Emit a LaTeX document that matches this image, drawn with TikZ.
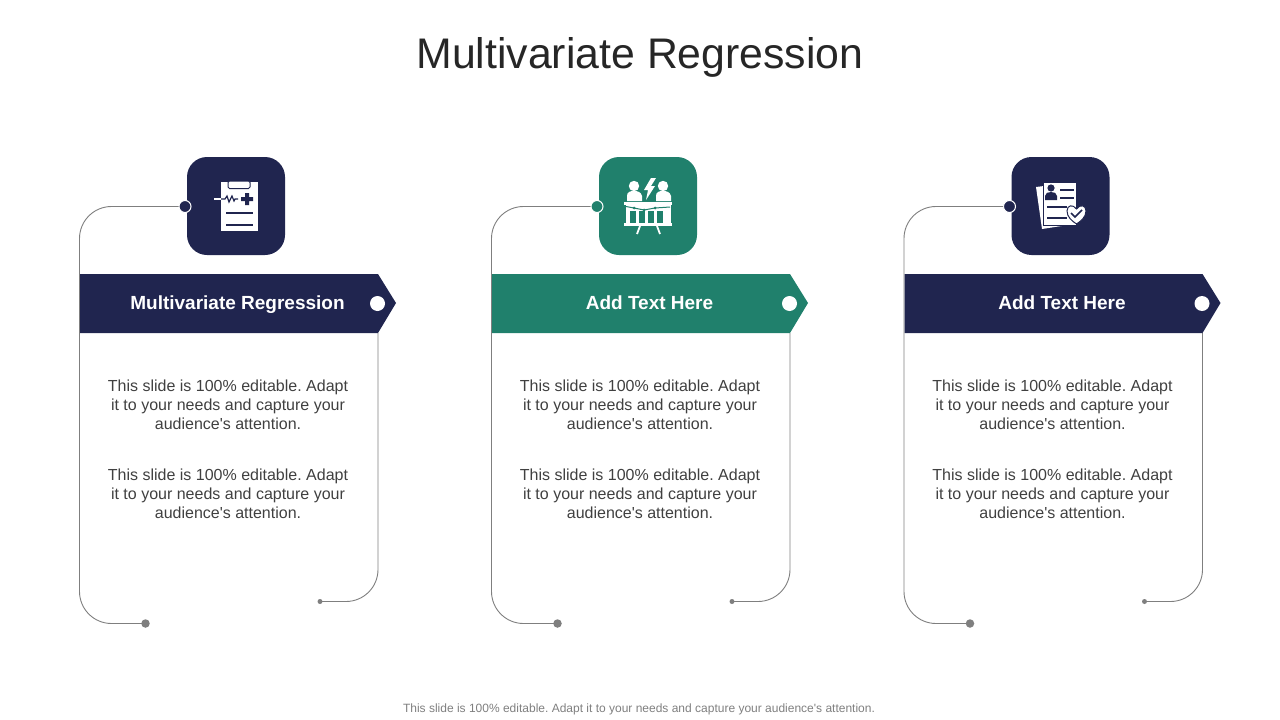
\documentclass[tikz,border=0pt]{standalone}
\usepackage{fontspec}
\setmainfont[Ligatures=TeXOff]{Liberation Sans}
\frenchspacing
\definecolor{navy}{HTML}{20254F}
\definecolor{teal}{HTML}{20806C}
\definecolor{wire}{HTML}{7F7F7F}
\tikzset{
 titletext/.style={font=\fontsize{42.8}{50}\selectfont,text=black!85},
 headtext/.style={font=\fontsize{19}{22}\selectfont\bfseries,text=white},
 bodytext/.style={font=\fontsize{16}{19}\selectfont,text=black!75,align=center},
 foottext/.style={font=\fontsize{12}{14}\selectfont,text=wire},
 wireline/.style={draw=wire,line width=0.9pt,rounded corners=32pt},
 iconbox/.style={rounded corners=20pt,minimum width=98pt,minimum height=98pt,inner sep=0pt,fill=#1},
 topdot/.style={circle,fill=#1,draw=white,line width=1pt,minimum size=12pt,inner sep=0pt},
 enddot/.style={circle,fill=wire,inner sep=0pt,minimum size=#1},
 whitedot/.style={circle,fill=white,inner sep=0pt,minimum size=15pt},
 banner/.style={fill=#1},
}
\newcommand{\bodylines}{This slide is 100\% editable. Adapt\\it to your needs and capture your\\audience's attention.}
\newcommand{\iconA}[1]{%
 \fill[white] (221,182) rectangle (258,231);
 \fill[white,draw=#1,line width=1pt,rounded corners=1.5pt] (228,181) rectangle (250,188.5);
 \draw[white,line width=1.2pt] (214,199) -- (221,199);
 \draw[#1,line width=1.2pt] (221,199) -- (225,199) -- (227,196) -- (229,202) -- (232,196) -- (234,201) -- (235,199) -- (238,199);
 \fill[#1] (245,193) rectangle (249,205) (241,197) rectangle (253,201);
 \draw[#1,line width=1.6pt] (226,213) -- (253,213) (226,225) -- (253,225);
}
\newcommand{\iconB}[1]{%
 \fill[white] (634,186) circle (5.2pt) (663,186) circle (5.2pt);
 \fill[white] (627,201) -- (627,196) .. controls (627,192) and (630,191) .. (634,191) .. controls (638,191) and (641,192) .. (642,196) -- (642,201) -- cycle;
 \fill[white] (656,201) -- (656,196) .. controls (656,192) and (659,191) .. (663,191) .. controls (667,191) and (670,192) .. (671,196) -- (671,201) -- cycle;
 \fill[white] (651,178) -- (644,190) -- (648,190) -- (646,200) -- (655,186) -- (651,186) -- (656,178) -- cycle;
 \fill[white] (624,202) rectangle (672,205);
 \fill[white] (624,223) rectangle (672,226);
 \foreach \xa/\ya in {628/4.5,637/3,646/3,655/3,664/3,668.5/4.5}{\fill[white] (\xa-\ya/2,205) rectangle (\xa+\ya/2,223);}
 \fill[white] (626,205) rectangle (670,211);
 \draw[#1,line width=1pt] (626,206.5) -- (634,208) -- (644,210) -- (655,208) -- (670,207);
 \fill[#1] (634,208) circle (1.5pt) (644,210) circle (1.5pt) (655,208) circle (1.5pt);
 \draw[white,line width=1.8pt] (640,226) -- (637,234) (657,226) -- (660,234);
}
\newcommand{\iconC}[1]{%
 \fill[white] (1036,187) -- (1044,186) -- (1068,225) -- (1042,229) -- cycle;
 \fill[white,draw=#1,line width=0.9pt] (1043,182) rectangle (1076,225);
 \fill[#1] (1051,188) circle (3.6pt);
 \fill[#1] (1045,200) -- (1045,196) .. controls (1045,193) and (1048,192) .. (1051,192) .. controls (1054,192) and (1057,193) .. (1057,196) -- (1057,200) -- cycle;
 \draw[#1,line width=1.6pt] (1060,190) -- (1074,190) (1060,198) -- (1074,198) (1047,207) -- (1067,207) (1047,218) -- (1067,218);
 \fill[white,draw=#1,line width=1pt] (1076.5,209) .. controls (1073,204) and (1067,205) .. (1067,211) .. controls (1067,217) and (1072,221) .. (1076.5,224) .. controls (1081,221) and (1086,217) .. (1086,211) .. controls (1086,205) and (1080,204) .. (1076.5,209) -- cycle;
 \draw[#1,line width=1.6pt] (1071,213) -- (1075,217) -- (1082,210);
}
\begin{document}
\begin{tikzpicture}[x=1pt,y=-1pt]
\useasboundingbox (0,0) rectangle (1280,720);
\node[titletext] (title) at (640,57) {Multivariate Regression};
\node[foottext,anchor=base] (foot) at (639,712.5) {This slide is 100\% editable. Adapt it to your needs and capture your audience's attention.};
\foreach \n/\dx/\col/\head in {a/0/navy/Multivariate Regression,b/412/teal/Add Text Here,c/824.5/navy/Add Text Here}{
 \begin{scope}[xshift=\dx pt]
  \coordinate (\n tl) at (79.5,206.5);
  \coordinate (\n bl) at (79.5,623.5);
  \coordinate (\n tr) at (378,333);
  \coordinate (\n br) at (378,601.5);
  \node[iconbox=\col] (\n icon) at (236,206) {};
  \node[topdot=\col] (\n top) at (185,206.5) {};
  \node[enddot=8.5pt] (\n end) at (145.5,623.5) {};
  \node[enddot=5pt] (\n small) at (320,601.5) {};
  \draw[wireline] (\n top.west) -- (\n tl) -- (\n bl) -- (\n end.center);
  \draw[wireline] (\n tr) -- (\n br) -- (\n small.center);
  \fill[banner=\col] (80,274) -- (378,274) -- (396,303) -- (378,333) -- (80,333) -- cycle;
  \node[whitedot] (\n hole) at (377.5,303.5) {};
  \node[headtext,anchor=base] (\n head) at (237.5,309.5) {\head};
  \node[bodytext] (\n p) at (228,405) {\bodylines};
  \node[bodytext] (\n q) at (228,494) {\bodylines};
 \end{scope}
}
\iconA{navy}
\iconB{teal}
\iconC{navy}
\end{tikzpicture}
\end{document}
